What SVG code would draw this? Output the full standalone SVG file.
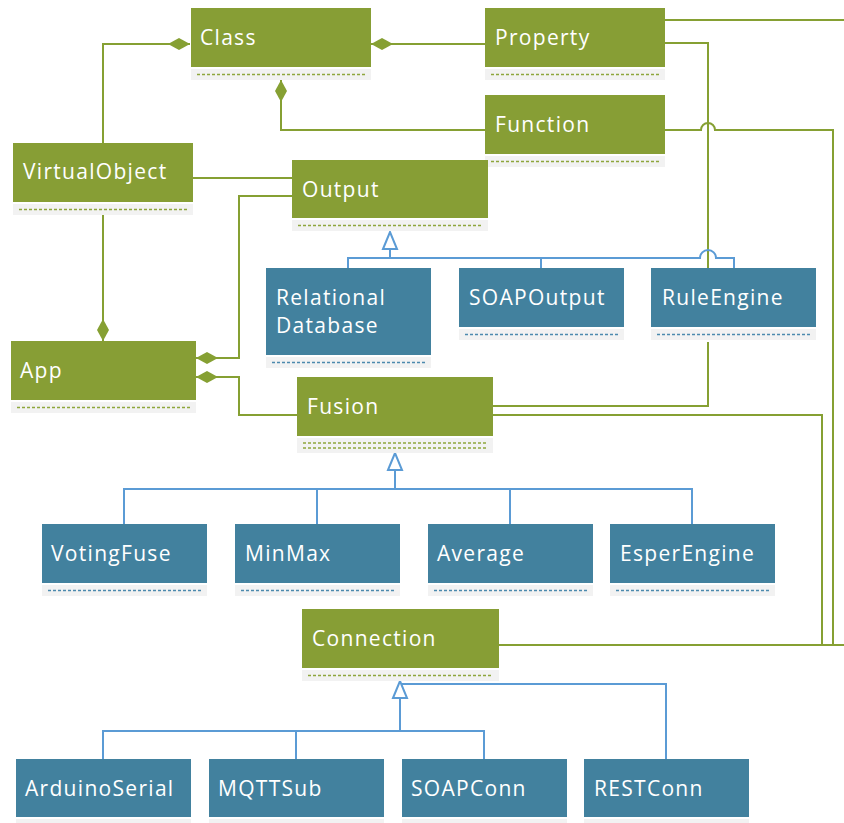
<svg xmlns="http://www.w3.org/2000/svg" width="844" height="823" viewBox="0 0 844 823">
  <style>
    .g { fill: #879E35; }
    .b { fill: #42819E; }
    .strip { fill: #F2F2F2; }
    .dg { stroke: #8EA63C; stroke-width: 1.3; stroke-dasharray: 3 2; fill: none; }
    .db { stroke: #4C8AAE; stroke-width: 1.3; stroke-dasharray: 3 2; fill: none; }
    .t { fill: #FFFFFF; font-family: "Open Sans", "Noto Sans", "DejaVu Sans", sans-serif; font-size: 21px; letter-spacing: 1.3px; }
    .cg { stroke: #86A033; stroke-width: 2; fill: none; }
    .cb { stroke: #5B9BD5; stroke-width: 2; fill: none; }
  </style>
  <defs>
    <marker id="diamond" markerUnits="userSpaceOnUse" markerWidth="24" markerHeight="14" viewBox="0 -7 24 14" refX="0" refY="0" orient="auto">
      <path d="M0,0 L11,-6 L22,0 L11,6 Z" fill="#86A033"/>
    </marker>
    <marker id="inherit" markerUnits="userSpaceOnUse" markerWidth="20" markerHeight="18" viewBox="0 -9 20 18" refX="18" refY="0" orient="auto">
      <path d="M1,-7 L18,0 L1,7 Z" fill="#FFFFFF" stroke="#5B9BD5" stroke-width="2" stroke-linejoin="miter"/>
    </marker>
  </defs>

  <rect width="844" height="823" fill="#FFFFFF"/>

  <!-- connectors -->
  <g id="connectors">
    <!-- compositions (green) -->
    <path class="cg" d="M190,44 H103 V143" marker-start="url(#diamond)"/>
    <path class="cg" d="M371,44 H485" marker-start="url(#diamond)"/>
    <path class="cg" d="M281,80 V130 H485" marker-start="url(#diamond)"/>
    <path class="cg" d="M103,341 V214"  marker-start="url(#diamond)"/>
    <path class="cg" d="M196,358 H239 V196 H292" marker-start="url(#diamond)"/>
    <path class="cg" d="M196,377 H239 V415 H297" marker-start="url(#diamond)"/>
    <path class="cg" d="M193,178 H292"/>
    <!-- associations on the right -->
    <path class="cg" d="M665,20 H844"/>
    <path class="cg" d="M665,43 H708 V268"/>
    <path class="cg" d="M708,342 V406 H493"/>
    <path class="cg" d="M665,130 H701 A7,7 0 0 1 715,130 H833 V645"/>
    <path class="cg" d="M493,415 H822 V645"/>
    <path class="cg" d="M499,645 H844"/>

    <!-- generalization: Output -->
    <path class="cb" d="M348,268 V258 H700 A8,8 0 0 1 716,258 H734 V268"/>
    <path class="cb" d="M541,258 V268"/>
    <path class="cb" d="M390,258 V232" marker-end="url(#inherit)"/>

    <!-- generalization: Fusion -->
    <path class="cb" d="M124,524 V489 H692 V524"/>
    <path class="cb" d="M317,489 V524 M510,489 V524"/>
    <path class="cb" d="M395,489 V453" marker-end="url(#inherit)"/>

    <!-- generalization: Connection -->
    <path class="cb" d="M402,684 H666 V759"/>
    <path class="cb" d="M103,759 V731 H484 V759"/>
    <path class="cb" d="M296,731 V759"/>
    <path class="cb" d="M400,731 V681" marker-end="url(#inherit)"/>
  </g>

  <!-- green classes -->
  <g id="Class">
    <rect class="g" x="191" y="8" width="180" height="59"/>
    <rect class="strip" x="191" y="69" width="180" height="11"/>
    <line class="dg" x1="197" y1="74.5" x2="365" y2="74.5"/>
    <text class="t" x="200" y="45">Class</text>
  </g>
  <g id="Property">
    <rect class="g" x="485" y="8" width="180" height="59"/>
    <rect class="strip" x="485" y="69" width="180" height="11"/>
    <line class="dg" x1="491" y1="74.5" x2="659" y2="74.5"/>
    <text class="t" x="495" y="45">Property</text>
  </g>
  <g id="Function">
    <rect class="g" x="485" y="95" width="180" height="59"/>
    <rect class="strip" x="485" y="156" width="180" height="11"/>
    <line class="dg" x1="491" y1="161.5" x2="659" y2="161.5"/>
    <text class="t" x="495" y="132">Function</text>
  </g>
  <g id="VirtualObject">
    <rect class="g" x="13" y="143" width="180" height="59"/>
    <rect class="strip" x="13" y="204" width="180" height="11"/>
    <line class="dg" x1="19" y1="209.5" x2="187" y2="209.5"/>
    <text class="t" x="23" y="179">VirtualObject</text>
  </g>
  <g id="Output">
    <rect class="g" x="292" y="160" width="196" height="58"/>
    <rect class="strip" x="292" y="220" width="196" height="11"/>
    <line class="dg" x1="298" y1="225.5" x2="482" y2="225.5"/>
    <text class="t" x="302" y="197">Output</text>
  </g>
  <g id="App">
    <rect class="g" x="11" y="341" width="185" height="59"/>
    <rect class="strip" x="11" y="402" width="185" height="11"/>
    <line class="dg" x1="17" y1="407.5" x2="190" y2="407.5"/>
    <text class="t" x="20" y="378">App</text>
  </g>
  <g id="Fusion">
    <rect class="g" x="297" y="377" width="196" height="59"/>
    <rect class="strip" x="297" y="438" width="196" height="15"/>
    <line class="dg" x1="303" y1="443" x2="487" y2="443"/>
    <line class="dg" x1="303" y1="448" x2="487" y2="448"/>
    <text class="t" x="307" y="414">Fusion</text>
  </g>
  <g id="Connection">
    <rect class="g" x="302" y="609" width="197" height="59"/>
    <rect class="strip" x="302" y="670" width="197" height="11"/>
    <line class="dg" x1="308" y1="675.5" x2="493" y2="675.5"/>
    <text class="t" x="312" y="646">Connection</text>
  </g>

  <!-- blue classes -->
  <g id="RelationalDatabase">
    <rect class="b" x="266" y="268" width="165" height="87"/>
    <rect class="strip" x="266" y="357" width="165" height="11"/>
    <line class="db" x1="272" y1="362.5" x2="425" y2="362.5"/>
    <text class="t" x="276" y="305">Relational</text>
    <text class="t" x="276" y="333">Database</text>
  </g>
  <g id="SOAPOutput">
    <rect class="b" x="459" y="268" width="165" height="59"/>
    <rect class="strip" x="459" y="329" width="165" height="11"/>
    <line class="db" x1="465" y1="334.5" x2="618" y2="334.5"/>
    <text class="t" x="469" y="305">SOAPOutput</text>
  </g>
  <g id="RuleEngine">
    <rect class="b" x="651" y="268" width="165" height="59"/>
    <rect class="strip" x="651" y="329" width="165" height="11"/>
    <line class="db" x1="657" y1="334.5" x2="810" y2="334.5"/>
    <text class="t" x="662" y="305">RuleEngine</text>
  </g>
  <g id="VotingFuse">
    <rect class="b" x="42" y="524" width="165" height="59"/>
    <rect class="strip" x="42" y="585" width="165" height="11"/>
    <line class="db" x1="48" y1="590.5" x2="201" y2="590.5"/>
    <text class="t" x="51" y="561">VotingFuse</text>
  </g>
  <g id="MinMax">
    <rect class="b" x="235" y="524" width="165" height="59"/>
    <rect class="strip" x="235" y="585" width="165" height="11"/>
    <line class="db" x1="241" y1="590.5" x2="394" y2="590.5"/>
    <text class="t" x="245" y="561">MinMax</text>
  </g>
  <g id="Average">
    <rect class="b" x="428" y="524" width="165" height="59"/>
    <rect class="strip" x="428" y="585" width="165" height="11"/>
    <line class="db" x1="434" y1="590.5" x2="587" y2="590.5"/>
    <text class="t" x="437" y="561">Average</text>
  </g>
  <g id="EsperEngine">
    <rect class="b" x="610" y="524" width="165" height="59"/>
    <rect class="strip" x="610" y="585" width="165" height="11"/>
    <line class="db" x1="616" y1="590.5" x2="769" y2="590.5"/>
    <text class="t" x="620" y="561">EsperEngine</text>
  </g>
  <g id="ArduinoSerial">
    <rect class="b" x="16" y="759" width="175" height="58"/>
    <rect class="strip" x="16" y="819" width="175" height="11"/>
    <text class="t" x="25" y="796">ArduinoSerial</text>
  </g>
  <g id="MQTTSub">
    <rect class="b" x="209" y="759" width="175" height="58"/>
    <rect class="strip" x="209" y="819" width="175" height="11"/>
    <text class="t" x="218" y="796">MQTTSub</text>
  </g>
  <g id="SOAPConn">
    <rect class="b" x="402" y="759" width="165" height="58"/>
    <rect class="strip" x="402" y="819" width="165" height="11"/>
    <text class="t" x="411" y="796">SOAPConn</text>
  </g>
  <g id="RESTConn">
    <rect class="b" x="584" y="759" width="165" height="58"/>
    <rect class="strip" x="584" y="819" width="165" height="11"/>
    <text class="t" x="594" y="796">RESTConn</text>
  </g>
</svg>
